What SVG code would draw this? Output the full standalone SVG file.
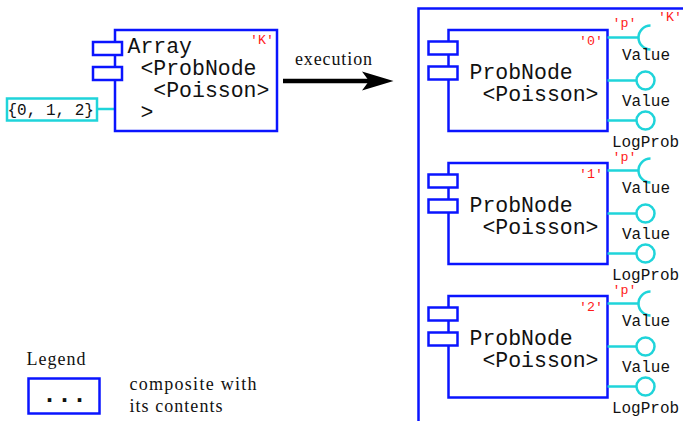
<svg xmlns="http://www.w3.org/2000/svg" width="683" height="421" viewBox="0 0 683 421">
  <style>
    .box { fill: #ffffff; stroke: #0a14ff; stroke-width: 2.5; }
    .frame { fill: none; stroke: #0a14ff; stroke-width: 2.5; }
    .port { fill: none; stroke: #1fd4da; stroke-width: 2.5; }
    .lolli { fill: #ffffff; stroke: #1fd4da; stroke-width: 2.5; }
    .val { fill: #ffffff; stroke: #1fd4da; stroke-width: 2.5; }
    .mono { font-family: "Liberation Mono", "Courier New", monospace; fill: #111111; }
    .big { font-size: 21.5px; }
    .small { font-size: 16px; }
    .tag { font-family: "Liberation Mono", "Courier New", monospace; font-size: 13.3px; fill: #ff1a1a; }
    .serif { font-family: "Liberation Serif", "Times New Roman", serif; font-size: 18px; fill: #111111; }
    .mid { text-anchor: middle; }
    .end { text-anchor: end; }
  </style>
  <defs>
    <!-- component icon: two small tabs on the left edge -->
    <g id="tabs">
      <rect class="box" x="0" y="0" width="29" height="13"/>
      <rect class="box" x="0" y="25" width="29" height="13"/>
    </g>
    <!-- ports of a ProbNode: one required (socket) and two provided (lollipops) -->
    <g id="ports">
      <line class="port" x1="0" y1="7" x2="31" y2="7"/>
      <path class="port" d="M 43 -5 A 12 12 0 0 0 43 19"/>
      <line class="port" x1="0" y1="50" x2="29" y2="50"/>
      <circle class="lolli" cx="38" cy="50" r="9"/>
      <line class="port" x1="0" y1="90" x2="29" y2="90"/>
      <circle class="lolli" cx="38" cy="90" r="9"/>
    </g>
  </defs>

  <!-- connectors -->
  <g id="connectors">
    <line class="port" x1="97" y1="109" x2="115" y2="109"/>
    <line x1="283" y1="81" x2="370" y2="81" stroke="#000000" stroke-width="4.5"/>
    <path d="M 393.5 81 L 362 71.5 L 369 81 L 362 90.5 Z" fill="#000000"/>
    <text class="serif" x="295" y="65" textLength="77" lengthAdjust="spacing">execution</text>
  </g>

  <!-- value set feeding the array -->
  <g id="value-set">
    <rect class="val" x="7" y="98.5" width="90" height="22"/>
    <text class="mono small" x="7.5" y="114.5">{0, 1, 2}</text>
  </g>

  <!-- array composite before execution -->
  <g id="array">
    <rect class="box" x="115" y="30" width="162" height="101"/>
    <use href="#tabs" x="93" y="42"/>
    <text class="mono big" x="127.5" y="53">Array</text>
    <text class="mono big" x="140.4" y="75">&lt;ProbNode</text>
    <text class="mono big" x="153.3" y="97">&lt;Poisson&gt;</text>
    <text class="mono big" x="140.4" y="119">&gt;</text>
    <text class="tag end" x="274" y="43.5">'K'</text>
  </g>

  <!-- composite after execution -->
  <g id="composite">
    <path class="frame" d="M 418.5 425 L 418.5 8.5 L 690 8.5"/>
    <text class="tag end" x="682" y="20.5">'K'</text>
  </g>

  <g id="probnode-0">
    <rect class="box" x="448.5" y="30" width="159" height="101"/>
    <use href="#tabs" x="428.5" y="41.5"/>
    <text class="mono big" x="469.5" y="79">ProbNode</text>
    <text class="mono big" x="482.4" y="101">&lt;Poisson&gt;</text>
    <text class="tag end" x="603" y="45">'0'</text>
    <use href="#ports" x="607.5" y="30.5"/>
    <text class="tag" x="612.5" y="26.5">'p'</text>
    <text class="mono small mid" x="646" y="60">Value</text>
    <text class="mono small mid" x="646" y="106">Value</text>
    <text class="mono small mid" x="645.5" y="146.5">LogProb</text>
  </g>

  <g id="probnode-1">
    <rect class="box" x="448.5" y="163" width="159" height="101"/>
    <use href="#tabs" x="428.5" y="174.5"/>
    <text class="mono big" x="469.5" y="212">ProbNode</text>
    <text class="mono big" x="482.4" y="234">&lt;Poisson&gt;</text>
    <text class="tag end" x="603" y="178">'1'</text>
    <use href="#ports" x="607.5" y="163.5"/>
    <text class="tag" x="612.5" y="160.5">'p'</text>
    <text class="mono small mid" x="646" y="193">Value</text>
    <text class="mono small mid" x="646" y="239">Value</text>
    <text class="mono small mid" x="645.5" y="279.5">LogProb</text>
  </g>

  <g id="probnode-2">
    <rect class="box" x="448.5" y="296" width="159" height="101.5"/>
    <use href="#tabs" x="428.5" y="307.5"/>
    <text class="mono big" x="469.5" y="345">ProbNode</text>
    <text class="mono big" x="482.4" y="367">&lt;Poisson&gt;</text>
    <text class="tag end" x="603" y="311">'2'</text>
    <use href="#ports" x="607.5" y="296.5"/>
    <text class="tag" x="612.5" y="293.5">'p'</text>
    <text class="mono small mid" x="646" y="326">Value</text>
    <text class="mono small mid" x="646" y="372">Value</text>
    <text class="mono small mid" x="645.5" y="413">LogProb</text>
  </g>

  <!-- legend -->
  <g id="legend">
    <text class="serif" x="26.5" y="365" textLength="59" lengthAdjust="spacing">Legend</text>
    <rect class="box" x="28.5" y="378.5" width="71" height="35"/>
    <text class="mono" x="42" y="402" font-size="25px" font-weight="bold">...</text>
    <text class="serif" x="129.5" y="390" textLength="127" lengthAdjust="spacing">composite with</text>
    <text class="serif" x="129.5" y="411.5" textLength="93" lengthAdjust="spacing">its contents</text>
  </g>
</svg>
